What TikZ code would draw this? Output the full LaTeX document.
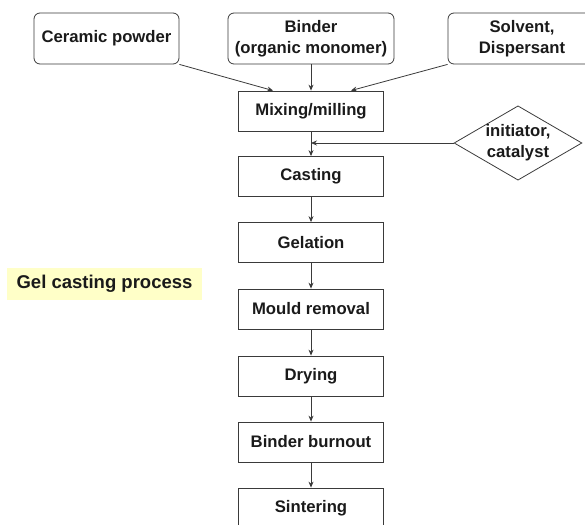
\documentclass[tikz,border=0pt]{standalone}
\usepackage{fontspec}
\setmainfont{Liberation Sans}
\usetikzlibrary{arrows.meta,shapes.geometric,calc}
\definecolor{lineColor}{HTML}{3a3a3a}
\definecolor{textColor}{HTML}{1a1a1a}
\definecolor{noteColor}{HTML}{FFFFC8}
\newcommand{\boxFont}{\bfseries\fontsize{16.7}{21}\selectfont}
\tikzset{input box/.style={draw=lineColor, rounded corners=6pt, align=center, minimum height=51pt, text=textColor, font=\boxFont}}
\tikzset{process box/.style={draw=lineColor, minimum width=145pt, minimum height=40pt, text=textColor, font=\boxFont}}
\tikzset{agent/.style={diamond, draw=lineColor, aspect=1.72, inner sep=0pt, align=center, text=textColor, font=\boxFont}}
\tikzset{note/.style={fill=noteColor, minimum width=195pt, minimum height=32pt, text=textColor, font=\bfseries\fontsize{18.5}{22}\selectfont}}

\begin{document}
\begin{tikzpicture}[->,>={Stealth[length=6pt,width=5pt]},x=1pt,y=-1pt,
                    line width=0.8pt,draw=lineColor]
  \useasboundingbox (0,0) rectangle (585,524);
  % inputs
  \node[input box, minimum width=145pt] at (106.5,38.5) (powder) {Ceramic powder};
  \node[input box, minimum width=166pt] at (311,38.5)   (binder) {Binder\\(organic monomer)};
  \node[input box, minimum width=148pt] at (522,38.5)   (solvent) {Solvent,\\Dispersant};
  % process chain
  \node[process box] at (311,111)   (mix)    {Mixing/milling};
  \node[process box] at (311,176.5) (cast)   {Casting};
  \node[process box] at (311,242.5) (gel)    {Gelation};
  \node[process box] at (311,309)   (mould)  {Mould removal};
  \node[process box] at (311,376)   (dry)    {Drying};
  \node[process box] at (311,442)   (burn)   {Binder burnout};
  \node[process box] at (311,508)   (sinter) {Sintering};
  \node[agent] at (518,143) (init) {initiator,\\catalyst};
  \node[note] at (104.5,284) (title) {Gel casting process};
  \coordinate (join) at (init.west -| mix.south);
  \path (powder.south east) edge ([xshift=35pt]mix.north west);
  \path (binder) edge (mix);
  \path (solvent.south west) edge ([xshift=-33pt]mix.north east);
  \path (init.west) edge (join);
  \path (mix) edge (cast);
  \path (cast) edge (gel);
  \path (gel) edge (mould);
  \path (mould) edge (dry);
  \path (dry) edge (burn);
  \path (burn) edge (sinter);
\end{tikzpicture}
\end{document}
